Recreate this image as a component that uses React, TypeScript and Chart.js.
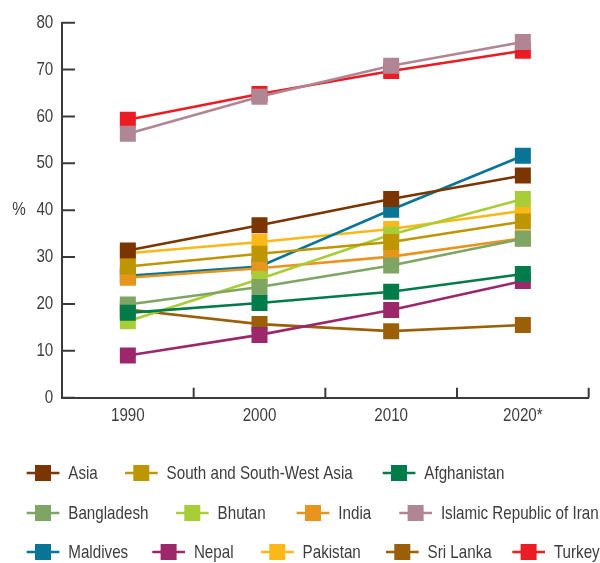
import React, { useEffect, useRef } from "react";
import { Chart, registerables } from "chart.js";

Chart.register(...registerables);

// ---- data ----
const years = ["1990", "2000", "2010", "2020*"];
const yTickValues = [0, 10, 20, 30, 40, 50, 60, 70, 80];
const yTickLabels = ["0", "10", "20", "30", "40", "50", "60", "70", "80"];
const yAxisLabel = "%";

const asia = [31.4, 36.8, 42.4, 47.4];
const southWestAsia = [28.0, 30.7, 33.2, 37.6];
const afghanistan = [18.1, 20.2, 22.6, 26.4];
const bangladesh = [19.9, 23.6, 28.2, 33.9];
const bhutan = [16.3, 25.3, 34.8, 42.4];
const india = [25.6, 27.6, 30.1, 34.0];
const iran = [56.3, 64.2, 70.8, 75.9];
const maldives = [26.0, 28.0, 40.1, 51.6];
const nepal = [9.0, 13.4, 18.7, 24.9];
const pakistan = [30.8, 33.2, 36.0, 39.9];
const sriLanka = [18.8, 15.7, 14.2, 15.5];
const turkey = [59.3, 64.8, 69.7, 74.0];

const seriesNames = [
  "Asia",
  "South and South-West Asia",
  "Afghanistan",
  "Bangladesh",
  "Bhutan",
  "India",
  "Islamic Republic of Iran",
  "Maldives",
  "Nepal",
  "Pakistan",
  "Sri Lanka",
  "Turkey",
];
const seriesValues = [
  asia, southWestAsia, afghanistan, bangladesh, bhutan, india,
  iran, maldives, nepal, pakistan, sriLanka, turkey,
];
const seriesColors = [
  "#7a3500", "#be9604", "#007b4a", "#7ea563", "#a9cd37", "#e8951e",
  "#b08694", "#087597", "#9c286b", "#fbb818", "#9a5f07", "#ec1c24",
];

// ---- layout / style ----
const FONT_FAMILY = '"Liberation Sans", Arial, sans-serif';
const FONT_SIZE = 18.5;
const NARROW = 0.82; // horizontal condensing of the text
const TEXT = "#3d3d3d";
const AXIS = "#3a3a3a";
const legendRows = [[0, 1, 2], [3, 4, 5, 6], [7, 8, 9, 10, 11]];
const legendRowY = [473, 513, 552];
const legendRowX = [
  [26.7, 125, 382.7],
  [26.7, 176, 296.7, 399.3],
  [26.7, 152.3, 261, 386, 512.3],
];

function narrowText(ctx: CanvasRenderingContext2D, text: string, x: number, y: number, align: CanvasTextAlign) {
  ctx.save();
  ctx.translate(x, y);
  ctx.scale(NARROW, 1);
  ctx.textAlign = align;
  ctx.textBaseline = "middle";
  ctx.fillText(text, 0, 0);
  ctx.restore();
}

const decorPlugin = {
  id: "decor",
  afterDraw(chart: any) {
    const { ctx, chartArea: a, scales } = chart;
    const y = scales.y;
    const x = scales.x;
    ctx.save();
    // inward tick marks
    ctx.strokeStyle = AXIS;
    ctx.lineWidth = 2;
    ctx.beginPath();
    yTickValues.forEach((v) => {
      const py = y.getPixelForValue(v);
      ctx.moveTo(a.left, py);
      ctx.lineTo(a.left + 13, py);
    });
    const half = (x.getPixelForValue(1) - x.getPixelForValue(0)) / 2;
    for (let i = 1; i <= years.length; i++) {
      const px = x.getPixelForValue(i) - half;
      ctx.moveTo(px, a.bottom);
      ctx.lineTo(px, a.bottom - 10);
    }
    ctx.stroke();

    ctx.fillStyle = TEXT;
    ctx.font = `${FONT_SIZE}px ${FONT_FAMILY}`;

    // y tick labels
    yTickValues.forEach((v, i) => {
      narrowText(ctx, yTickLabels[i], a.left - 8.7, y.getPixelForValue(v), "right");
    });
    // x tick labels
    years.forEach((lab, i) => {
      narrowText(ctx, lab, x.getPixelForValue(i), a.bottom + 18.5, "center");
    });
    // "%" label
    narrowText(ctx, yAxisLabel, 19, y.getPixelForValue(40), "center");

    // legend
    legendRows.forEach((row, r) => {
      row.forEach((idx, k) => {
        const lx = legendRowX[r][k];
        const ly = legendRowY[r];
        const c = seriesColors[idx];
        ctx.strokeStyle = c;
        ctx.lineWidth = 2.6;
        ctx.beginPath();
        ctx.moveTo(lx, ly);
        ctx.lineTo(lx + 32.7, ly);
        ctx.stroke();
        ctx.fillStyle = c;
        ctx.fillRect(lx + 8.3, ly - 8, 16, 16);
        ctx.fillStyle = TEXT;
        narrowText(ctx, seriesNames[idx], lx + 41.6, ly + 1, "left");
      });
    });
    ctx.restore();
  },
};

export default function App() {
  const ref = useRef<HTMLCanvasElement | null>(null);

  useEffect(() => {
    if (!ref.current) return;
    const chart = new Chart(ref.current, {
      type: "line",
      data: {
        labels: years,
        datasets: seriesNames.map((name, i) => ({
          label: name,
          data: seriesValues[i],
          borderColor: seriesColors[i],
          backgroundColor: seriesColors[i],
          pointBackgroundColor: seriesColors[i],
          borderWidth: 2.6,
          pointStyle: "rect",
          pointRadius: 11.31,
          pointHoverRadius: 11.31,
          pointBorderWidth: 0,
          tension: 0,
          fill: false,
        })),
      },
      options: {
        animation: false,
        responsive: true,
        maintainAspectRatio: false,
        layout: { padding: { top: 22.7, right: 11, left: 0, bottom: 0 } },
        plugins: {
          legend: { display: false },
          tooltip: { enabled: false },
        },
        scales: {
          x: {
            type: "category",
            offset: true,
            grid: { display: true, drawOnChartArea: false, drawTicks: false, offset: true },
            border: { display: true, color: AXIS, width: 2 },
            ticks: { display: false, autoSkip: false, maxRotation: 0 },
            afterFit: (s: any) => {
              s.height = 165.3;
            },
          },
          y: {
            min: 0,
            max: 80,
            grid: { display: true, drawOnChartArea: false, drawTicks: false },
            border: { display: true, color: AXIS, width: 2 },
            ticks: { display: false, stepSize: 10 },
            afterFit: (s: any) => {
              s.width = 62;
            },
          },
        },
      },
      plugins: [decorPlugin],
    });
    return () => chart.destroy();
  }, []);

  return (
    <div style={{ position: "fixed", left: 0, top: 0, width: 600, height: 563, background: "#fff" }}>
      <canvas ref={ref} />
    </div>
  );
}
